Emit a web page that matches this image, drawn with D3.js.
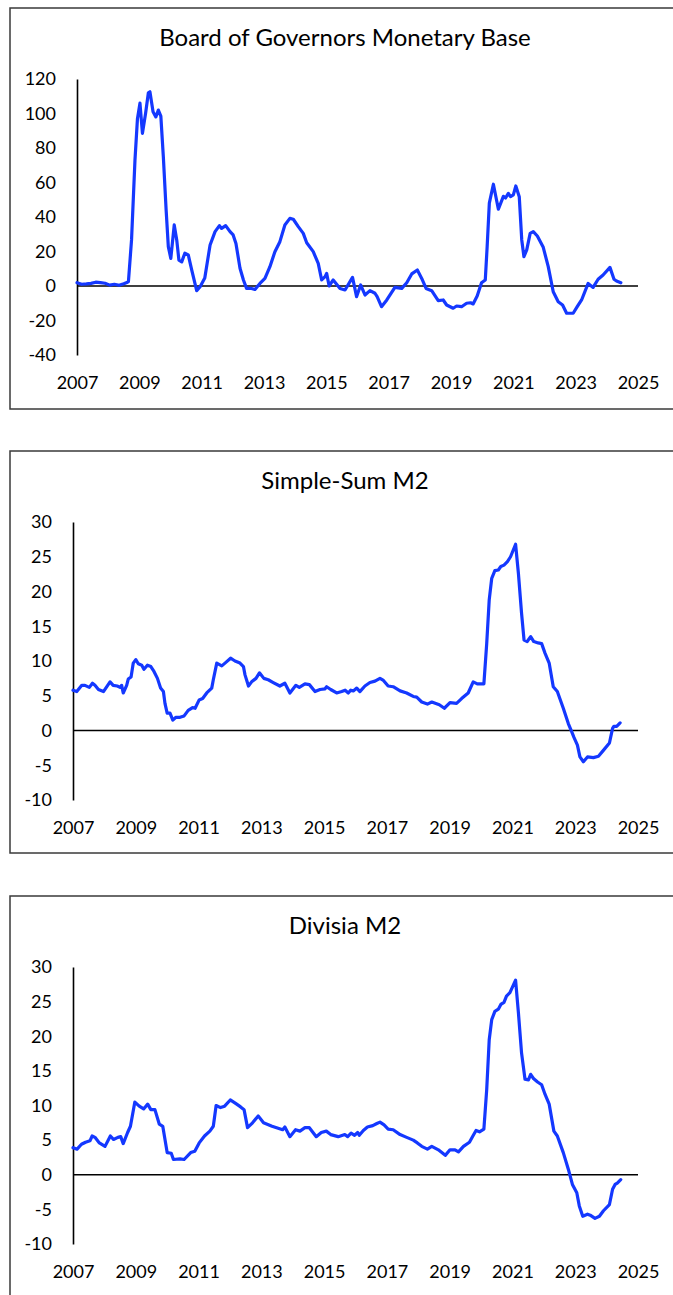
<!DOCTYPE html>
<html>
<head>
    <meta charset="utf-8">
    <style>
        body { margin: 0; background: #fff; }
        .panel-border { fill: none; stroke: #3a3a3a; stroke-width: 1.5px; }
        .title { font: 24px Lato, sans-serif; fill: #000; }
        .tick text { font: 18px Lato, sans-serif; fill: #000; }
        .series { fill: none; stroke: #1438ff; stroke-width: 3.2px; stroke-linejoin: round; stroke-linecap: round; }
        .zero { stroke: #000; stroke-width: 1.5px; }
    </style>
</head>
<body>
    <script src="https://d3js.org/d3.v7.min.js"></script>
    <script>
        // Tick labels
        var yearTicks = [2007, 2009, 2011, 2013, 2015, 2017, 2019, 2021, 2023, 2025];
        var baseTicks = [120, 100, 80, 60, 40, 20, 0, -20, -40];
        var m2Ticks = [30, 25, 20, 15, 10, 5, 0, -5, -10];

        // Board of Governors Monetary Base (% growth)
        var baseYears = [2007.0, 2007.15, 2007.3, 2007.45, 2007.6, 2007.75, 2007.9, 2008.05, 2008.2, 2008.35,
            2008.5, 2008.6, 2008.65, 2008.75, 2008.86, 2008.94, 2009.02, 2009.1, 2009.2, 2009.29,
            2009.34, 2009.44, 2009.53, 2009.61, 2009.69, 2009.77, 2009.86, 2009.93, 2010.01, 2010.12,
            2010.2, 2010.27, 2010.36, 2010.46, 2010.57, 2010.68, 2010.84, 2010.95, 2011.1, 2011.27,
            2011.43, 2011.57, 2011.64, 2011.77, 2011.91, 2012.01, 2012.1, 2012.23, 2012.34, 2012.44,
            2012.6, 2012.71, 2012.87, 2013.03, 2013.19, 2013.35, 2013.51, 2013.67, 2013.83, 2013.94,
            2014.1, 2014.26, 2014.37, 2014.58, 2014.74, 2014.85, 2014.96, 2015.01, 2015.09, 2015.22,
            2015.44, 2015.6, 2015.84, 2015.97, 2016.1, 2016.24, 2016.4, 2016.56, 2016.63, 2016.77,
            2016.94, 2017.2, 2017.42, 2017.58, 2017.74, 2017.92, 2018.06, 2018.2, 2018.38, 2018.59,
            2018.75, 2018.86, 2019.07, 2019.18, 2019.34, 2019.5, 2019.63, 2019.71, 2019.84, 2019.98,
            2020.1, 2020.16, 2020.23, 2020.36, 2020.52, 2020.68, 2020.75, 2020.84, 2020.91, 2021.0,
            2021.08, 2021.19, 2021.27, 2021.34, 2021.43, 2021.54, 2021.64, 2021.77, 2021.96, 2022.12,
            2022.28, 2022.44, 2022.58, 2022.71, 2022.92, 2023.05, 2023.19, 2023.4, 2023.56, 2023.72,
            2023.88, 2024.1, 2024.23, 2024.31, 2024.45];
        var baseValues = [1.9, 1.0, 1.2, 1.5, 2.2, 2.0, 1.6, 0.5, 1.0, 0.4,
            1.3, 2.0, 2.5, 26.7, 73, 97, 106, 88.5, 100, 112,
            112.6, 101, 98, 102, 98.5, 75, 44, 22.8, 16, 35.4,
            26.7, 15, 14, 19, 18, 9.3, -2.7, -0.4, 4.6, 23.8,
            31.5, 35, 33.4, 35, 31.5, 29.6, 24.7, 10.3, 3.5, -1.4,
            -1.4, -2, 1.5, 4.4, 11.2, 19.9, 25.7, 35.4, 39.2, 38.7,
            34.4, 30.5, 25.1, 19.9, 13.1, 3.5, 5.4, 7.3, 0, 3.5,
            -1.4, -2.3, 5, -6.2, 0.6, -5.2, -2.7, -4.2, -6.2, -12,
            -8.1, -0.8, -1.4, 1.9, 7, 9.3, 4.4, -1.4, -2.7, -8.5,
            -8.1, -11, -12.9, -11.6, -12, -10, -9.7, -10.4, -5.8, 1.9,
            3.5, 22.8, 48, 59, 44.5, 52, 51, 53.7, 51.8, 52.8,
            58, 51.8, 26.7, 17, 20.9, 30.5, 31.5, 29, 22.4, 11.2,
            -3.3, -9.1, -11, -15.8, -15.8, -12, -8.1, 1.5, -0.8, 3.9,
            6.4, 10.8, 3.9, 2.9, 1.9];

        // Simple-Sum M2
        var ssYears = [2007.0, 2007.12, 2007.28, 2007.38, 2007.52, 2007.62, 2007.7, 2007.81, 2007.97, 2008.18,
            2008.28, 2008.41, 2008.5, 2008.55, 2008.6, 2008.71, 2008.76, 2008.85, 2008.92, 2009.0,
            2009.08, 2009.19, 2009.26, 2009.37, 2009.48, 2009.58, 2009.69, 2009.79, 2009.88, 2009.93,
            2010.0, 2010.09, 2010.18, 2010.28, 2010.41, 2010.54, 2010.67, 2010.81, 2010.89, 2011.02,
            2011.13, 2011.26, 2011.42, 2011.47, 2011.58, 2011.74, 2011.87, 2012.02, 2012.16, 2012.32,
            2012.43, 2012.48, 2012.59, 2012.69, 2012.83, 2012.94, 2013.08, 2013.22, 2013.38, 2013.59,
            2013.75, 2013.91, 2014.1, 2014.21, 2014.39, 2014.53, 2014.71, 2014.87, 2015.03, 2015.08,
            2015.21, 2015.4, 2015.56, 2015.67, 2015.77, 2015.85, 2015.93, 2016.04, 2016.14, 2016.3,
            2016.46, 2016.62, 2016.78, 2016.89, 2017.04, 2017.2, 2017.42, 2017.63, 2017.84, 2017.95,
            2018.11, 2018.29, 2018.43, 2018.67, 2018.83, 2019.01, 2019.22, 2019.38, 2019.59, 2019.75,
            2019.88, 2020.09, 2020.18, 2020.26, 2020.34, 2020.44, 2020.55, 2020.63, 2020.73, 2020.84,
            2020.94, 2021.1, 2021.19, 2021.29, 2021.37, 2021.47, 2021.58, 2021.68, 2021.82, 2021.93,
            2022.04, 2022.17, 2022.3, 2022.43, 2022.62, 2022.78, 2022.89, 2022.96, 2023.07, 2023.15,
            2023.26, 2023.39, 2023.58, 2023.74, 2023.89, 2024.09, 2024.19, 2024.23, 2024.32, 2024.43];
        var ssValues = [5.8, 5.6, 6.5, 6.5, 6.2, 6.8, 6.5, 5.9, 5.6, 7.0,
            6.5, 6.4, 6.2, 6.5, 5.4, 6.5, 7.4, 7.7, 9.7, 10.2,
            9.6, 9.4, 8.8, 9.4, 9.2, 8.5, 7.5, 6.1, 5.6, 3.9,
            2.5, 2.5, 1.5, 1.9, 1.9, 2.1, 2.9, 3.3, 3.2, 4.4,
            4.6, 5.4, 6.1, 7.3, 9.7, 9.3, 9.8, 10.4, 10.0, 9.7,
            9.2, 8.0, 6.4, 7.0, 7.5, 8.3, 7.5, 7.3, 6.9, 6.4,
            6.8, 5.4, 6.5, 6.2, 6.7, 6.6, 5.6, 5.9, 6.0, 6.3,
            5.9, 5.4, 5.6, 5.8, 5.4, 5.8, 5.7, 6.1, 5.6, 6.4,
            6.9, 7.1, 7.5, 7.2, 6.4, 6.3, 5.7, 5.4, 4.9, 4.8,
            4.1, 3.8, 4.1, 3.7, 3.2, 4.0, 3.9, 4.6, 5.4, 7.0,
            6.7, 6.7, 12.5, 18.8, 21.9, 23.0, 23.1, 23.6, 23.8, 24.3,
            25.0, 26.8, 22.6, 16.9, 13.0, 12.8, 13.5, 12.8, 12.6, 12.5,
            11.1, 9.7, 6.3, 5.6, 3.2, 1.0, -0.2, -1.0, -2.1, -3.8,
            -4.5, -3.8, -3.9, -3.7, -2.9, -1.8, 0.3, 0.6, 0.6, 1.1];

        // Divisia M2
        var dvYears = [2007.0, 2007.13, 2007.27, 2007.4, 2007.54, 2007.61, 2007.7, 2007.84, 2008.02, 2008.19,
            2008.29, 2008.43, 2008.52, 2008.6, 2008.74, 2008.83, 2008.97, 2009.11, 2009.25, 2009.38,
            2009.48, 2009.61, 2009.75, 2009.86, 2010.0, 2010.13, 2010.2, 2010.41, 2010.54, 2010.75,
            2010.88, 2011.02, 2011.19, 2011.36, 2011.47, 2011.56, 2011.7, 2011.83, 2012.01, 2012.18,
            2012.34, 2012.45, 2012.56, 2012.72, 2012.9, 2013.07, 2013.34, 2013.68, 2013.75, 2013.91,
            2014.09, 2014.23, 2014.39, 2014.53, 2014.75, 2014.91, 2015.07, 2015.21, 2015.45, 2015.66,
            2015.75, 2015.86, 2015.97, 2016.07, 2016.12, 2016.25, 2016.38, 2016.55, 2016.68, 2016.78,
            2016.91, 2017.04, 2017.2, 2017.42, 2017.63, 2017.84, 2017.97, 2018.11, 2018.29, 2018.43,
            2018.64, 2018.86, 2019.01, 2019.17, 2019.28, 2019.44, 2019.63, 2019.74, 2019.84, 2019.95,
            2020.09, 2020.18, 2020.26, 2020.34, 2020.44, 2020.55, 2020.63, 2020.73, 2020.81, 2020.92,
            2021.1, 2021.19, 2021.29, 2021.4, 2021.51, 2021.58, 2021.67, 2021.8, 2021.93, 2022.04,
            2022.17, 2022.32, 2022.43, 2022.62, 2022.78, 2022.91, 2023.05, 2023.13, 2023.24, 2023.39,
            2023.5, 2023.63, 2023.77, 2023.9, 2024.09, 2024.19, 2024.27, 2024.34, 2024.45];
        var dvValues = [3.9, 3.7, 4.4, 4.7, 4.9, 5.6, 5.4, 4.6, 4.1, 5.6,
            5.1, 5.4, 5.5, 4.5, 6.1, 7.0, 10.5, 9.9, 9.5, 10.2,
            9.4, 9.4, 7.3, 7.0, 3.2, 3.1, 2.2, 2.3, 2.2, 3.2,
            3.4, 4.6, 5.6, 6.3, 7.0, 10.0, 9.7, 9.9, 10.8, 10.3,
            9.8, 9.4, 6.8, 7.5, 8.5, 7.5, 7.0, 6.5, 6.9, 5.5,
            6.5, 6.3, 6.8, 6.8, 5.5, 6.1, 6.3, 5.8, 5.5, 5.8,
            5.5, 6.0, 5.7, 6.1, 5.7, 6.4, 6.9, 7.1, 7.4, 7.6,
            7.2, 6.6, 6.5, 5.8, 5.4, 5.0, 4.6, 4.1, 3.7, 4.1,
            3.6, 2.8, 3.6, 3.6, 3.3, 4.1, 4.7, 5.6, 6.4, 6.2,
            6.6, 12.3, 19.5, 22.4, 23.6, 23.9, 24.6, 24.9, 25.8, 26.3,
            28.1, 23.4, 17.6, 13.8, 13.7, 14.5, 13.9, 13.4, 13.0, 11.6,
            10.2, 6.3, 5.6, 3.2, 0.8, -1.4, -2.6, -4.5, -6.0, -5.7,
            -5.9, -6.3, -6.0, -5.2, -4.3, -2.1, -1.4, -1.2, -0.7];

        var svg = d3.select("body").append("svg")
            .attr("width", 673)
            .attr("height", 1295);

        // plain hyphen for negatives, as in the original
        var plain = function (d) { return String(d); };

        function drawPanel(p) {
            var g = svg.append("g");

            g.append("rect")
                .attr("class", "panel-border")
                .attr("x", 10)
                .attr("y", p.top)
                .attr("width", 700)
                .attr("height", p.bottom - p.top);

            g.append("text")
                .attr("class", "title")
                .attr("x", 345)
                .attr("y", p.top + 38)
                .attr("text-anchor", "middle")
                .text(p.title);

            var x = d3.scaleLinear().domain([2007, 2025]).range([p.left, 638]);
            var y = d3.scaleLinear().domain(p.domain).range(p.range);

            // y axis: the domain line is the vertical axis
            g.append("g")
                .attr("transform", "translate(" + p.left + ",0)")
                .call(d3.axisLeft(y).tickValues(p.ticks).tickSize(0).tickPadding(21)
                    .tickFormat(plain))
                .call(function (a) {
                    a.select(".domain").attr("stroke", "#000").attr("stroke-width", 1.6);
                });

            // year labels sit below the plot
            g.append("g")
                .attr("transform", "translate(0," + p.range[0] + ")")
                .call(d3.axisBottom(x).tickValues(yearTicks).tickSize(0).tickPadding(21)
                    .tickFormat(plain))
                .call(function (a) { a.select(".domain").remove(); });

            g.append("line")
                .attr("class", "zero")
                .attr("x1", x(2007)).attr("x2", x(2025))
                .attr("y1", y(0)).attr("y2", y(0));

            var line = d3.line()
                .x(function (d, i) { return x(p.years[i]); })
                .y(function (d) { return y(d); });

            g.append("path")
                .attr("class", "series")
                .attr("d", line(p.values));
        }

        drawPanel({ title: "Board of Governors Monetary Base", top: 8, bottom: 409, left: 77,
            domain: [-40, 120], range: [355, 79], ticks: baseTicks, years: baseYears, values: baseValues });
        drawPanel({ title: "Simple-Sum M2", top: 451, bottom: 853, left: 73,
            domain: [-10, 30], range: [800, 522], ticks: m2Ticks, years: ssYears, values: ssValues });
        drawPanel({ title: "Divisia M2", top: 896, bottom: 1310, left: 73,
            domain: [-10, 30], range: [1244, 967], ticks: m2Ticks, years: dvYears, values: dvValues });
    </script>
</body>
</html>
